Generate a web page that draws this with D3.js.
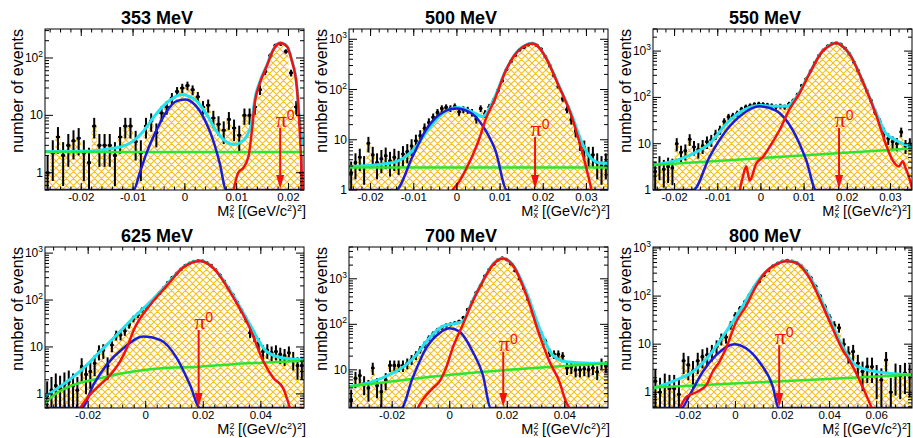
<!DOCTYPE html>
<html>
<head>
<meta charset="utf-8">
<script src="https://cdn.jsdelivr.net/npm/d3@7"></script>
<style>
  body { margin: 0; background: #fff; }
  svg { display: block; }
  text { font-family: "Liberation Sans", Arial, Helvetica, sans-serif; white-space: pre; }
</style>
</head>
<body>
<div id="chart"></div>
<script>
// ---- panel setup
var titles = ['353 MeV', '500 MeV', '550 MeV', '625 MeV', '700 MeV', '800 MeV'];
var xRanges = [[-0.027, 0.023], [-0.025, 0.035], [-0.025, 0.035], [-0.035, 0.055], [-0.035, 0.055], [-0.035, 0.075]];
var yRanges = [[0.5, 320], [1, 1600], [1, 3000], [0.5, 1350], [1.45, 5000], [0.47, 1050]];
var xTicks = [
  [-0.02, -0.01, 0, 0.01, 0.02],
  [-0.02, -0.01, 0, 0.01, 0.02, 0.03],
  [-0.02, -0.01, 0, 0.01, 0.02, 0.03],
  [-0.02, 0, 0.02, 0.04],
  [-0.02, 0, 0.02, 0.04],
  [-0.02, 0, 0.02, 0.04, 0.06]
];
var xMinorStep = [0.002, 0.002, 0.002, 0.004, 0.004, 0.004];
var binLo = [-0.027, -0.025, -0.025, -0.035, -0.035, -0.035];
var binW = [0.001, 0.001, 0.001, 0.0015, 0.0015, 0.002];
var piX = [0.0184, 0.0181, 0.0181, 0.0184, 0.0186, 0.0186];
var piTop = [6.1, 11.3, 21.8, 23, 25, 9.5];

// ---- data histograms (events per bin)
var counts353 = [1.0, 2.2, 4.2, 2.0, 3.0, 3.6, 4.0, 2.2, 1.5, 6.5,
  3.0, 3.0, 3.0, 2.0, 4.2, 6.5, 6.5, 3.5, 2.2, 6.5,
  8.0, 5.0, 11, 14, 20, 26, 30, 33, 28, 21,
  14, 15, 9, 7, 5.5, 8.5, 6, 4.5, 10, 10,
  14, 28, 58, 110, 165, 175, 130, 55, 14, 1];
var counts500 = [2.2, 3.5, 4.5, 3.0, 8.5, 5.0, 3.5, 4.2, 4.8, 3.8,
  4.5, 4.0, 5.2, 5.8, 7.5, 9.5, 12, 17, 22, 28,
  35, 42, 44, 42, 46, 36, 40, 39, 35, 26,
  42, 33, 45, 60, 95, 150, 250, 360, 480, 610,
  690, 780, 820, 760, 640, 450, 300, 190, 115, 65,
  40, 25, 15, 9, 7, 5, 5, 3.5, 3, 3.5];
var counts550 = [2.5, 3.5, 2.8, 3.2, 3.0, 10, 6.5, 7, 12.5, 8.5,
  7.5, 9, 11, 12, 16, 20, 30, 38, 40, 45,
  55, 62, 66, 70, 72, 70, 68, 66, 62, 65,
  62, 72, 85, 115, 180, 250, 370, 560, 800, 1050,
  1280, 1450, 1500, 1400, 1150, 870, 580, 380, 230, 140,
  85, 48, 30, 18, 13, 11, 10, 18, 9, 10];
var counts625 = [0.9, 1.2, 1.5, 1.3, 1.6, 1.8, 1.5, 1.2, 3.8, 2.6,
  3.0, 4.5, 8, 8.5, 4.0, 11, 18, 18, 22, 30,
  40, 48, 62, 70, 88, 110, 140, 180, 235, 300,
  370, 450, 540, 610, 660, 690, 680, 620, 540, 440,
  340, 250, 180, 130, 90, 60, 40, 20, 17, 12,
  8, 8.5, 7.5, 8, 7, 6.5, 7.5, 5.5, 4, 4];
var counts700 = [2.2, 6.5, 7.5, 5.0, 4.0, 11, 4.5, 3.3, 6, 12.5,
  12.5, 12.5, 12.5, 14, 17, 21, 28, 36, 50, 62,
  75, 85, 95, 100, 106, 115, 140, 210, 310, 500,
  720, 1150, 1600, 2100, 2600, 2850, 2650, 2150, 1500, 1000,
  620, 350, 190, 100, 64, 42, 24, 22, 22, 20,
  11, 11.5, 10, 10, 10.5, 10, 11, 9, 14, 12];
var counts800 = [1.7, 1.0, 1.3, 1.2, 1.2, 0.9, 4.5, 3.7, 2.8, 4.5,
  5.5, 6, 7, 9, 13, 14, 25, 40, 55, 75,
  105, 150, 200, 270, 340, 420, 480, 530, 550, 530,
  490, 420, 330, 240, 160, 100, 60, 36, 25, 22,
  10, 6.5, 7, 4, 2.7, 3.4, 3.4, 2.2, 1.8, 4.7,
  1.0, 2.4, 2.2, 2.5, 2.3];

// ---- fit curves [x, value]
var cyan353 = [[-0.027, 2.35], [-0.018, 2.4], [-0.0141, 2.65], [-0.0119, 2.9], [-0.01, 3.55], [-0.008, 5.3], [-0.0061, 9.1], [-0.0042, 14.5], [-0.0022, 20.2], [-0.0006, 23], [0.0007, 21.6], [0.0023, 17.7], [0.0042, 10.4], [0.0061, 5.3], [0.0078, 3.55], [0.0094, 3.1], [0.0106, 3.3], [0.0119, 4.3], [0.0129, 7.3], [0.0135, 18.8], [0.0145, 39], [0.0158, 74], [0.0171, 142], [0.0184, 185], [0.0197, 162], [0.0206, 95], [0.0216, 34], [0.0222, 7.3], [0.023, 3.0]];
var red353 = [[0.0094, 0.5], [0.0103, 1.0], [0.0113, 1.22], [0.0123, 1.95], [0.0129, 4.96], [0.0135, 16.5], [0.0145, 36.7], [0.0158, 71.8], [0.0171, 140], [0.0184, 183], [0.0197, 160], [0.0206, 93], [0.0216, 32], [0.0222, 4.96], [0.0227, 0.5]];
var blue353 = [[-0.027, 0.1], [-0.0099, 0.5], [-0.0087, 1.0], [-0.0074, 2.2], [-0.0054, 5.7], [-0.0035, 11.8], [-0.0016, 17.7], [0, 18.9], [0.0019, 15.4], [0.0038, 8.5], [0.0054, 3.8], [0.0067, 1.5], [0.008, 0.5], [0.023, 0.1]];
var green353 = [[-0.027, 2.3], [0.023, 2.3]];

var cyan500 = [[-0.025, 2.9], [-0.0157, 3.4], [-0.0119, 4.6], [-0.0095, 7.2], [-0.0065, 16.7], [-0.0034, 33], [0.0001, 44], [0.0035, 36], [0.0059, 29], [0.0089, 75], [0.0112, 230], [0.0143, 610], [0.0158, 755], [0.0174, 830], [0.019, 695], [0.0205, 455], [0.0235, 126], [0.0266, 31], [0.0289, 9], [0.0312, 4.2], [0.0328, 3.5], [0.035, 3.4]];
var red500 = [[-0.0011, 1], [0.0005, 1.46], [0.002, 2.5], [0.0035, 4.6], [0.0051, 10], [0.0066, 24.6], [0.0089, 68], [0.0112, 225], [0.0143, 600], [0.0158, 750], [0.0174, 820], [0.019, 690], [0.0205, 445], [0.0235, 122], [0.0266, 28.6], [0.0289, 6.2], [0.0305, 1.8], [0.0312, 1]];
var blue500 = [[-0.025, 0.5], [-0.0142, 1], [-0.0103, 4.6], [-0.0072, 15.5], [-0.0042, 31], [-0.0003, 42], [0.0035, 33], [0.0066, 15.5], [0.0089, 6.2], [0.0116, 1], [0.035, 0.5]];
var green500 = [[-0.025, 2.8], [0.035, 2.8]];

var cyan550 = [[-0.025, 3.45], [-0.0195, 4.4], [-0.0157, 6.1], [-0.0119, 10], [-0.008, 27], [-0.0042, 52], [-0.0003, 67], [0.0035, 64], [0.0059, 64], [0.0082, 100], [0.0112, 325], [0.0143, 1010], [0.0158, 1300], [0.0174, 1510], [0.019, 1250], [0.0205, 880], [0.0235, 235], [0.0266, 48], [0.0289, 17], [0.0312, 12], [0.0328, 10], [0.0351, 8.5]];
var red550 = [[-0.0049, 1], [-0.0042, 1.9], [-0.0034, 3.2], [-0.0026, 1.6], [-0.0011, 3.7], [0.0005, 5.2], [0.002, 8.5], [0.0043, 19.5], [0.0066, 55], [0.0089, 120], [0.0112, 320], [0.0143, 1000], [0.0158, 1290], [0.0174, 1500], [0.019, 1240], [0.0205, 870], [0.0235, 230], [0.0266, 44], [0.0289, 10], [0.0305, 4.4], [0.032, 3.2], [0.0328, 4.2], [0.0335, 3.0], [0.0343, 1.9], [0.0351, 1]];
var blue550 = [[-0.025, 0.5], [-0.0157, 1], [-0.0119, 5.2], [-0.008, 19.5], [-0.0042, 44], [-0.0003, 64], [0.0035, 52], [0.0074, 19.5], [0.0105, 4.4], [0.0128, 1], [0.035, 0.5]];
var green550 = [[-0.025, 3.45], [0.035, 7.9]];

var cyan625 = [[-0.035, 0.88], [-0.0275, 1.8], [-0.0217, 3.5], [-0.0159, 8], [-0.0101, 18], [-0.0043, 42], [0.0015, 90], [0.0073, 215], [0.0131, 505], [0.0189, 685], [0.0235, 485], [0.0304, 125], [0.0362, 30], [0.042, 8], [0.0478, 5.8], [0.055, 5.3]];
var red625 = [[-0.0228, 0.5], [-0.0194, 0.95], [-0.0159, 1.55], [-0.0124, 2.5], [-0.0089, 4.9], [-0.0066, 9.4], [-0.0043, 22], [0.0015, 78], [0.0073, 200], [0.0131, 500], [0.0189, 680], [0.0235, 480], [0.0304, 115], [0.0362, 25], [0.0409, 4.9], [0.0443, 2.2], [0.0478, 1.3], [0.0501, 0.5]];
var blue625 = [[-0.035, 0.2], [-0.0223, 0.5], [-0.0182, 1.55], [-0.0136, 4.15], [-0.0078, 9.4], [-0.0008, 16.7], [0.005, 14.2], [0.0108, 5.8], [0.0154, 1.55], [0.0189, 0.5], [0.055, 0.2]];
var green625 = [[-0.035, 0.63], [-0.0318, 0.95], [-0.0266, 1.43], [-0.0159, 2.16], [-0.0043, 3.0], [0.0073, 3.6], [0.0189, 3.8], [0.0304, 4.3], [0.042, 4.65], [0.055, 5.1]];

var cyan700 = [[-0.035, 4.3], [-0.0268, 5.5], [-0.021, 7.8], [-0.0152, 12.9], [-0.0117, 21], [-0.0071, 50], [-0.0025, 90], [0.0022, 106], [0.0045, 115], [0.008, 340], [0.0115, 900], [0.0149, 2050], [0.0184, 2840], [0.0219, 2050], [0.0266, 520], [0.0312, 82], [0.0358, 21], [0.0404, 15], [0.0486, 14], [0.055, 14]];
var red700 = [[-0.0111, 1.45], [-0.0094, 2.2], [-0.0059, 3.95], [-0.0036, 5.5], [-0.0013, 10.9], [0.001, 30], [0.0045, 97], [0.008, 320], [0.0115, 880], [0.0149, 2000], [0.0184, 2780], [0.0219, 2000], [0.0266, 445], [0.0312, 58], [0.0347, 15], [0.0381, 5.5], [0.0404, 2], [0.0416, 1.45]];
var blue700 = [[-0.035, 0.5], [-0.0169, 1.45], [-0.0129, 6.6], [-0.0082, 30], [-0.0036, 64], [-0.0001, 82], [0.0033, 70], [0.008, 25], [0.0115, 7.8], [0.0143, 1.45], [0.055, 0.5]];
var green700 = [[-0.035, 4.3], [0.0022, 8], [0.055, 14]];

var cyan800 = [[-0.035, 1.2], [-0.025, 1.8], [-0.018, 2.7], [-0.011, 5.9], [-0.004, 18], [0.0031, 62], [0.0073, 140], [0.0115, 270], [0.0171, 455], [0.0213, 535], [0.0256, 505], [0.0312, 270], [0.0382, 55], [0.0452, 9.6], [0.0509, 3.7], [0.0593, 2.7], [0.075, 2.3]];
var red800 = [[-0.0236, 0.47], [-0.0208, 0.8], [-0.0166, 1.0], [-0.0124, 1.4], [-0.0096, 2.7], [-0.0068, 4.3], [-0.004, 8.2], [0.0003, 29], [0.0045, 62], [0.0087, 160], [0.0129, 320], [0.0171, 450], [0.0213, 530], [0.0256, 500], [0.0312, 250], [0.0382, 47], [0.0452, 8.2], [0.0495, 3.7], [0.0537, 1.4], [0.0579, 0.47]];
var blue800 = [[-0.035, 0.2], [-0.0229, 0.47], [-0.0194, 0.88], [-0.0138, 2.7], [-0.0082, 5.9], [-0.0005, 10], [0.0045, 8.2], [0.0101, 4.3], [0.0157, 1.4], [0.0185, 0.47], [0.075, 0.2]];
var green800 = [[-0.035, 1.25], [0.075, 2.3]];

var countsAll = [counts353, counts500, counts550, counts625, counts700, counts800];
var cyanAll = [cyan353, cyan500, cyan550, cyan625, cyan700, cyan800];
var redAll = [red353, red500, red550, red625, red700, red800];
var blueAll = [blue353, blue500, blue550, blue625, blue700, blue800];
var greenAll = [green353, green500, green550, green625, green700, green800];

var W = 913, H = 438;
var svg = d3.select('#chart').append('svg').attr('width', W).attr('height', H);
var defs = svg.append('defs');
var pat = defs.append('pattern').attr('id', 'hatch')
  .attr('patternUnits', 'userSpaceOnUse').attr('width', 7).attr('height', 7);
pat.append('path')
  .attr('d', 'M0,0L7,7M-1,6L1,8M6,-1L8,1M0,7L7,0M-1,1L1,-1M6,8L8,6')
  .attr('stroke', '#f7bf22').attr('stroke-width', 1.15).attr('fill', 'none');

var padX = [0, 304, 608], padY = [0, 218];

titles.forEach(function(title, k) {
  var px = padX[k % 3], py = padY[Math.floor(k / 3)];
  var x0 = px + 45, x1 = px + 304, y0 = py + 29, y1 = py + 190;
  var x = d3.scaleLinear().domain(xRanges[k]).range([x0, x1]);
  var y = d3.scaleLog().domain(yRanges[k]).range([y1, y0]).clamp(true);
  var g = svg.append('g');

  defs.append('clipPath').attr('id', 'clip' + k)
    .append('rect').attr('x', x0).attr('y', y0).attr('width', x1 - x0).attr('height', y1 - y0);
  var plot = g.append('g').attr('clip-path', 'url(#clip' + k + ')');

  // hatched histogram
  var c = countsAll[k], lo = binLo[k], w = binW[k];
  var steps = c.map(function(v, i) { return [lo + i * w, v]; });
  steps.push([lo + c.length * w, c[c.length - 1]]);
  plot.append('path').datum(steps)
    .attr('d', d3.area().curve(d3.curveStepAfter)
      .x(function(d) { return x(d[0]); }).y0(y1).y1(function(d) { return y(d[1]); }))
    .attr('fill', 'url(#hatch)');

  // data points with errors
  var pts = plot.append('g').attr('stroke', '#000').attr('stroke-width', 2);
  c.forEach(function(v, i) {
    var xc = x(lo + (i + 0.5) * w);
    var e = Math.sqrt(v);
    pts.append('line').attr('x1', xc).attr('x2', xc)
      .attr('y1', y(Math.max(v - e, 1e-3))).attr('y2', y(v + e));
    pts.append('line').attr('x1', x(lo + i * w) + 0.5).attr('x2', x(lo + (i + 1) * w) - 0.5)
      .attr('y1', y(v)).attr('y2', y(v));
    pts.append('circle').attr('cx', xc).attr('cy', y(v)).attr('r', 1.8).attr('fill', '#000').attr('stroke', 'none');
  });

  var line = d3.line().curve(d3.curveMonotoneX)
    .x(function(d) { return x(d[0]); }).y(function(d) { return y(d[1]); });
  function curve(data, color, width) {
    plot.append('path').datum(data).attr('d', line)
      .attr('fill', 'none').attr('stroke', color).attr('stroke-width', width)
      .attr('stroke-linejoin', 'round');
  }
  curve(cyanAll[k], '#22e3ef', 3);
  curve(greenAll[k], '#2ee52e', 2.5);
  curve(blueAll[k], '#1c1cd8', 2.5);
  curve(redAll[k], '#f41010', 2.5);

  // pi0 arrow
  var ax = x(piX[k]), at = y(piTop[k]);
  plot.append('line').attr('x1', ax).attr('x2', ax).attr('y1', at).attr('y2', y1 - 10)
    .attr('stroke', '#f41010').attr('stroke-width', 2);
  plot.append('path')
    .attr('d', 'M' + (ax - 4) + ',' + (y1 - 15) + 'L' + (ax + 4) + ',' + (y1 - 15) + 'L' + ax + ',' + (y1 - 1) + 'Z')
    .attr('fill', '#f41010');
  var pl = g.append('text').attr('x', ax + 5).attr('y', at - 1).attr('text-anchor', 'middle').attr('fill', '#f41010');
  pl.append('tspan').attr('font-family', '"Liberation Serif", "Times New Roman", serif').attr('font-size', 22).text('π');
  pl.append('tspan').attr('font-size', 14).attr('dy', -7).text('0');

  // frame
  g.append('rect').attr('x', x0).attr('y', y0).attr('width', x1 - x0).attr('height', y1 - y0)
    .attr('fill', 'none').attr('stroke', '#000').attr('stroke-width', 1);

  var ticks = g.append('g').attr('stroke', '#000').attr('stroke-width', 1);
  var xd = xRanges[k], ms = xMinorStep[k];
  d3.range(Math.ceil(xd[0] / ms - 1e-6), Math.floor(xd[1] / ms + 1e-6) + 1).forEach(function(j) {
    var xv = x(j * ms);
    ticks.append('line').attr('x1', xv).attr('x2', xv).attr('y1', y1).attr('y2', y1 - 3.5);
    ticks.append('line').attr('x1', xv).attr('x2', xv).attr('y1', y0).attr('y2', y0 + 3.5);
  });
  xTicks[k].forEach(function(v) {
    var xv = x(v);
    ticks.append('line').attr('x1', xv).attr('x2', xv).attr('y1', y1).attr('y2', y1 - 7);
    ticks.append('line').attr('x1', xv).attr('x2', xv).attr('y1', y0).attr('y2', y0 + 7);
    g.append('text').attr('x', xv).attr('y', y1 + 10.5).attr('text-anchor', 'middle')
      .attr('font-size', 11.5).text(v === 0 ? '0' : String(v));
  });

  var yd = yRanges[k];
  var dLo = Math.floor(Math.log10(yd[0])), dHi = Math.ceil(Math.log10(yd[1]));
  d3.range(dLo, dHi + 1).forEach(function(d) {
    d3.range(1, 10).forEach(function(m) {
      var v = m * Math.pow(10, d);
      if (v < yd[0] || v > yd[1]) return;
      var len = m === 1 ? 8 : 4;
      var yv = y(v);
      ticks.append('line').attr('x1', x0).attr('x2', x0 + len).attr('y1', yv).attr('y2', yv);
      ticks.append('line').attr('x1', x1).attr('x2', x1 - len).attr('y1', yv).attr('y2', yv);
      if (m === 1) {
        var t = g.append('text').attr('x', x0 - 2).attr('y', yv + 4).attr('text-anchor', 'end').attr('font-size', 12);
        if (d < 2) t.text(String(v));
        else {
          t.append('tspan').text('10');
          t.append('tspan').attr('font-size', 8.5).attr('dy', -5).text(String(d));
        }
      }
    });
  });

  // titles
  g.append('text').attr('x', px + 157).attr('y', y0 - 5).attr('text-anchor', 'middle')
    .attr('font-size', 18).attr('font-weight', 'bold').text(title);
  g.append('text').attr('transform', 'translate(' + (px + 23) + ',' + y0 + ') rotate(-90)')
    .attr('text-anchor', 'end').attr('font-size', 16).text('number of events');
  var xt = g.append('text').attr('x', Math.min(x1 + 2, W - 2)).attr('y', y1 + 26)
    .attr('text-anchor', 'end').attr('font-size', 14.5);
  xt.append('tspan').text('M');
  xt.append('tspan').attr('font-size', 9).attr('dy', -5.5).text('2');
  xt.append('tspan').attr('font-size', 9).attr('dx', -5).attr('dy', 7.5).text('x');
  xt.append('tspan').attr('dy', -2).text(' [(GeV/c');
  xt.append('tspan').attr('font-size', 9).attr('dy', -5.5).text('2');
  xt.append('tspan').attr('dy', 5.5).text(')');
  xt.append('tspan').attr('font-size', 9).attr('dy', -5.5).text('2');
  xt.append('tspan').attr('dy', 5.5).text(']');
});
</script>
</body>
</html>
